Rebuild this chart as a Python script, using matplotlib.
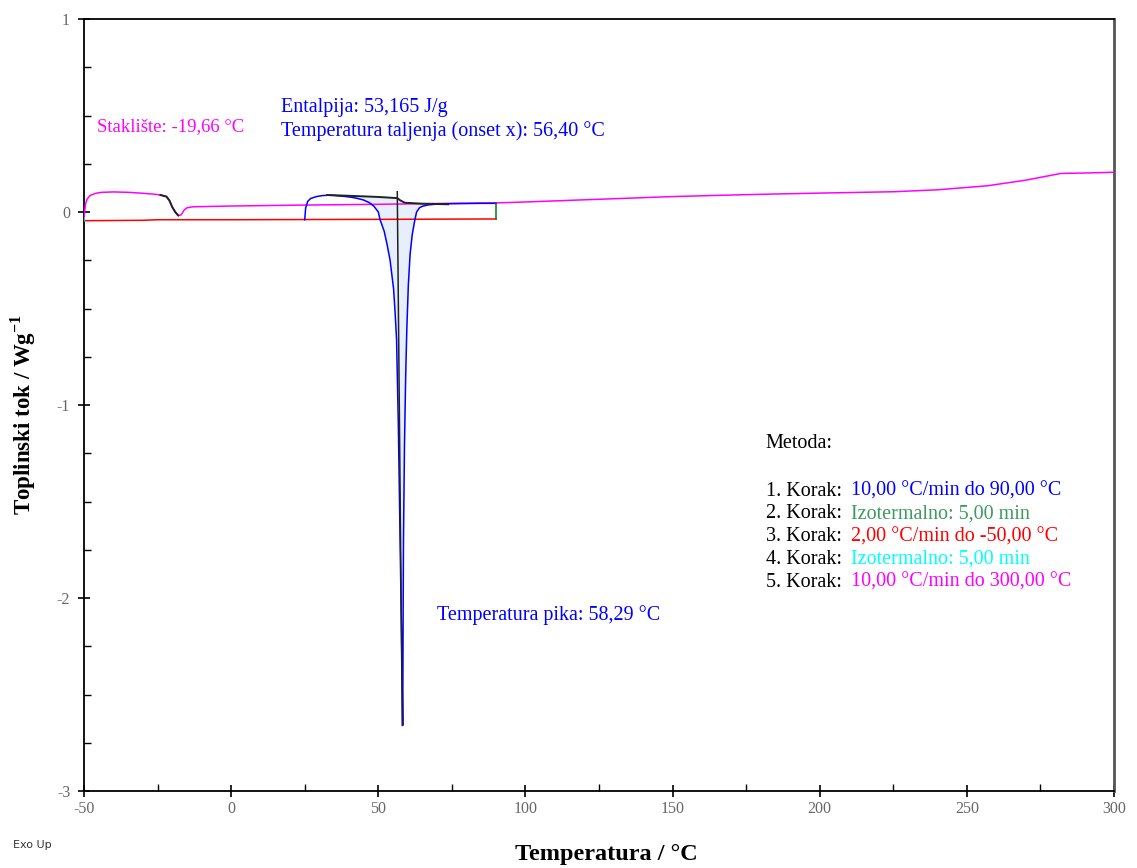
import numpy as np
import matplotlib.pyplot as plt
from matplotlib.ticker import MultipleLocator

# step 1: heating 10 C/min to 90 C (blue)
blue_t = [25.0, 25.3, 26, 27, 29, 31, 33, 35, 37, 39, 41, 43, 45, 47, 48.5, 50, 50.6, 52, 53, 54,
          55.2, 55.7, 56.2, 56.8, 57.4, 57.9, 58.29, 58.4, 58.55, 58.9, 59.3, 59.7, 60.2, 60.8,
          61.5, 62.3, 63, 64, 65, 67, 70, 75, 80, 85, 90]
blue_v = [-0.04, 0.02, 0.055, 0.07, 0.08, 0.085, 0.087, 0.086, 0.083, 0.08, 0.076, 0.07, 0.062,
          0.048, 0.03, 0.0, -0.04, -0.1, -0.17, -0.25, -0.4, -0.52, -0.66, -1.1, -1.7, -2.2,
          -2.66, -2.2, -1.7, -1.2, -0.85, -0.6, -0.38, -0.22, -0.12, -0.05, 0.0, 0.022, 0.03,
          0.037, 0.041, 0.043, 0.044, 0.045, 0.045]
# step 2: isothermal at 90 C (green)
green_t = [90, 90]
green_v = [0.045, -0.036]
# step 3: cooling 2 C/min to -50 C (red)
red_t = [90, 50, 0, -25, -30, -50]
red_v = [-0.036, -0.038, -0.04, -0.04, -0.043, -0.045]
# step 4: isothermal at -50 C (cyan)
cyan_t = [-50, -50]
cyan_v = [-0.045, -0.03]
# step 5: heating 10 C/min to 300 C (magenta)
pink_t = [-50, -49.5, -49, -48, -46, -44, -40, -35, -30, -26, -24, -22, -21, -20, -19, -18, -17,
          -16, -15, -13, -10, 0, 25, 50, 75, 90, 100, 125, 150, 175, 200, 225, 240, 257, 270,
          282, 290, 300]
pink_v = [-0.03, 0.04, 0.065, 0.085, 0.097, 0.102, 0.104, 0.102, 0.097, 0.092, 0.088, 0.08,
          0.06, 0.025, 0.0, -0.018, -0.015, 0.01, 0.022, 0.027, 0.028, 0.031, 0.036, 0.04,
          0.045, 0.047, 0.052, 0.066, 0.08, 0.09, 0.098, 0.105, 0.115, 0.136, 0.165, 0.2,
          0.202, 0.206]
# evaluation: integration baseline and onset tangent (black)
base_t = [32.6, 40, 50, 56.4, 57.5, 59, 65, 73.7]
base_v = [0.088, 0.084, 0.078, 0.072, 0.06, 0.048, 0.043, 0.04]
tang_t = [56.45, 58.15]
tang_v = [0.105, -2.66]
tg_range = (-25.2, -17.4)

steps = [("1. Korak: ", "10,00 °C/min do 90,00 °C", "#0000ff"),
         ("2. Korak: ", "Izotermalno: 5,00 min", "#3c9a5f"),
         ("3. Korak: ", "2,00 °C/min do -50,00 °C", "#ff0000"),
         ("4. Korak: ", "Izotermalno: 5,00 min", "#00ffff"),
         ("5. Korak: ", "10,00 °C/min do 300,00 °C", "#ff00ff")]

plt.rcParams['font.family'] = ['Liberation Serif', 'DejaVu Serif']
plt.rcParams['axes.unicode_minus'] = False
plt.rcParams['mathtext.fontset'] = 'custom'
plt.rcParams['mathtext.rm'] = 'Liberation Serif'
plt.rcParams['mathtext.bf'] = 'Liberation Serif:bold'

fig = plt.figure(figsize=(11.37, 8.68), dpi=100)
ax = fig.add_axes([0.0739, 0.0887, 0.9059, 0.8894])

lw = 1.1
# integrated peak area
bt = np.array(blue_t)
bv = np.array(blue_v)
m = (bt >= base_t[0]) & (bt <= base_t[-1])
bl = np.interp(bt[m], base_t, base_v)
ax.fill_between(bt[m], bv[m], bl, where=bv[m] < bl, color='#e6effb', lw=0, zorder=1)

pt = np.array(pink_t)
pv = np.array(pink_v)
ax.plot(red_t, red_v, color='#ff0000', lw=lw, zorder=2)
ax.plot(pink_t, pink_v, color='#ff00ff', lw=lw, zorder=3)
g = (pt >= tg_range[0]) & (pt <= tg_range[1])
ax.plot(pt[g], pv[g], color='#222222', lw=lw + 0.3, zorder=4)
ax.plot(cyan_t, cyan_v, color='#00ffff', lw=lw, zorder=3)
ax.plot(blue_t, blue_v, color='#0000ff', lw=lw, zorder=3)
ax.plot(green_t, green_v, color='#008000', lw=lw, zorder=3)
ax.plot(base_t, base_v, color='#222222', lw=lw + 0.3, zorder=4)
ax.plot(tang_t, tang_v, color='#222222', lw=lw, zorder=4)

ax.set_xlim(-50, 300)
ax.set_ylim(-3, 1)
ax.xaxis.set_major_locator(MultipleLocator(50))
ax.xaxis.set_minor_locator(MultipleLocator(25))
ax.yaxis.set_major_locator(MultipleLocator(1))
ax.yaxis.set_minor_locator(MultipleLocator(0.25))
ax.tick_params(which='major', direction='inout', length=8, width=1.2,
               labelsize=11.5, labelcolor='#666666', top=False, right=False)
ax.tick_params(which='minor', direction='in', length=5, width=1.0, top=False, right=False)
ax.tick_params(axis='y', pad=6)
for s in ['left', 'bottom', 'top']:
    ax.spines[s].set_linewidth(1.3)
ax.spines['right'].set_linewidth(2.0)
ax.spines['right'].set_color('#555555')

fs = 14.5
ax.text(-45.6, 0.44, "Staklište: -19,66 °C", color='#ff00ff', fontsize=13.5, va='center')
ax.text(16.9, 0.544, "Entalpija: 53,165 J/g", color='#0000ff', fontsize=fs, va='center')
ax.text(16.9, 0.42, "Temperatura taljenja (onset x): 56,40 °C", color='#0000ff',
        fontsize=fs, va='center')
ax.text(70.0, -2.088, "Temperatura pika: 58,29 °C", color='#0000ff', fontsize=fs, va='center')
ax.text(181.7, -1.202, "Metoda:", color='black', fontsize=fs, va='center')
for i, (pre, txt, col) in enumerate(steps):
    y = -1.446 - i * 0.118
    ax.text(181.7, y, pre, color='black', fontsize=fs, va='center')
    ax.text(210.6, y, txt, color=col, fontsize=fs, va='center')

fig.text(0.533, 0.004, "Temperatura / °C", fontsize=17.5, fontweight='bold',
         ha='center', va='bottom')
fig.text(0.02, 0.522, "Toplinski tok / Wg$^{\\mathbf{-1}}$", fontsize=16.5, fontweight='bold',
         rotation=90, ha='center', va='center')
fig.text(0.011, 0.027, "Exo Up", fontsize=8, family='DejaVu Sans', color='#333333',
         ha='left', va='center')

fig.savefig('out.png', dpi=100)
